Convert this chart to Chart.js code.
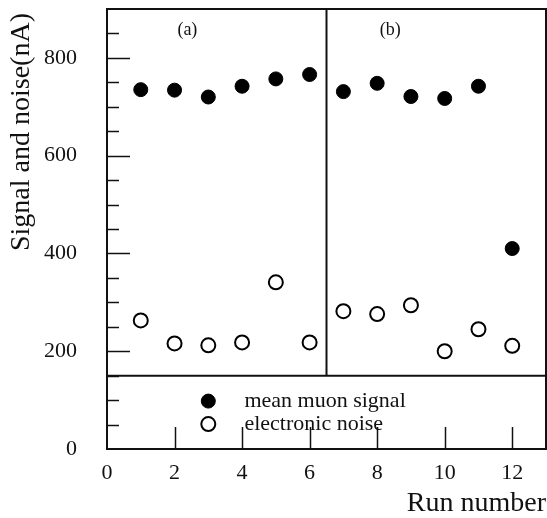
<!DOCTYPE html>
<html><head><meta charset="utf-8">
<script src="https://cdn.jsdelivr.net/npm/chart.js@4"></script>
<style>html,body{margin:0;padding:0;background:#fff;overflow:hidden}#wrap{width:547px;height:518px;position:relative}</style>
</head><body><div id="wrap"><canvas id="c"></canvas></div>
<script>
const runs = [1,2,3,4,5,6,7,8,9,10,11,12];
const muonSignal = [735,734,720,742,757,766,731,748,721,717,742,410];
const electronicNoise = [263,216,212,218,341,218,282,276,294,200,245,211];
const xTicks = [0,2,4,6,8,10,12];
const yTicks = [0,200,400,600,800];
const panelLabels = ['(a)','(b)'];
const seriesNames = ['mean muon signal','electronic noise'];
const xTitle = 'Run number';
const yTitle = 'Signal and noise(nA)';

const FONT = "'Liberation Serif', 'Times New Roman', serif";
const INK = '#111';

const decor = {
  id: 'decor',
  afterDraw(chart) {
    const {ctx, chartArea: a, scales: {x, y}} = chart;
    ctx.save();
    ctx.strokeStyle = INK;
    // inward y ticks
    ctx.lineWidth = 1.5;
    for (let v = 50; v < 900; v += 50) {
      const py = Math.round(y.getPixelForValue(v)) + 0.5;
      const len = (v % 200 === 0) ? 23 : 12;
      ctx.beginPath(); ctx.moveTo(a.left, py); ctx.lineTo(a.left + len, py); ctx.stroke();
    }
    // inward x ticks
    xTicks.forEach(v => {
      if (v === 0) return;
      const px = Math.round(x.getPixelForValue(v)) + 0.5;
      ctx.beginPath(); ctx.moveTo(px, a.bottom); ctx.lineTo(px, a.bottom - 22); ctx.stroke();
    });
    // divider lines
    ctx.lineWidth = 2;
    const hy = y.getPixelForValue(150);
    ctx.beginPath(); ctx.moveTo(a.left, hy); ctx.lineTo(a.right, hy); ctx.stroke();
    const vx = x.getPixelForValue(6.5);
    ctx.beginPath(); ctx.moveTo(vx, hy); ctx.lineTo(vx, a.top); ctx.stroke();
    // frame
    ctx.lineWidth = 2;
    ctx.strokeRect(a.left, a.top, a.right - a.left, a.bottom - a.top);
    // panel labels
    ctx.fillStyle = INK;
    ctx.font = '18px ' + FONT;
    ctx.textAlign = 'center'; ctx.textBaseline = 'middle';
    ctx.fillText(panelLabels[0], x.getPixelForValue(2.38), y.getPixelForValue(857));
    ctx.fillText(panelLabels[1], x.getPixelForValue(8.39), y.getPixelForValue(857));
    // legend
    const ds = chart.data.datasets;
    const mx = x.getPixelForValue(3.0);
    [98, 51].forEach((lv, i) => {
      const py = y.getPixelForValue(lv);
      ctx.beginPath(); ctx.arc(mx, py, 7, 0, Math.PI * 2);
      ctx.fillStyle = ds[i].backgroundColor; ctx.fill();
      ctx.lineWidth = ds[i].borderWidth; ctx.strokeStyle = ds[i].borderColor; ctx.stroke();
      ctx.fillStyle = INK;
      ctx.font = '22px ' + FONT;
      ctx.textAlign = 'left'; ctx.textBaseline = 'middle';
      ctx.fillText(seriesNames[i], x.getPixelForValue(4.07), py);
    });
    // y title
    ctx.save();
    ctx.translate(22, 132);
    ctx.rotate(-Math.PI / 2);
    ctx.font = '28px ' + FONT;
    ctx.textAlign = 'center'; ctx.textBaseline = 'middle';
    ctx.fillText(yTitle, 0, 0);
    ctx.restore();
    ctx.restore();
  }
};

new Chart(document.getElementById('c'), {
  type: 'scatter',
  data: {
    datasets: [
      { label: seriesNames[0], data: runs.map((r, i) => ({x: r, y: muonSignal[i]})),
        pointStyle: 'circle', pointRadius: 7, backgroundColor: '#000', borderColor: '#000', borderWidth: 1 },
      { label: seriesNames[1], data: runs.map((r, i) => ({x: r, y: electronicNoise[i]})),
        pointStyle: 'circle', pointRadius: 7, backgroundColor: '#fff', borderColor: '#000', borderWidth: 2 }
    ]
  },
  options: {
    responsive: true, maintainAspectRatio: false, animation: false, devicePixelRatio: 1,
    layout: { autoPadding: false, padding: { top: 9, right: 1, left: 0, bottom: 0 } },
    plugins: { legend: { display: false }, tooltip: { enabled: false } },
    elements: { point: { hoverRadius: 7 } },
    scales: {
      x: {
        type: 'linear', min: 0, max: 13,
        afterFit(s) { s.height = 69; s.paddingLeft = 0; s.paddingRight = 0; },
        afterBuildTicks(s) { s.ticks = xTicks.map(v => ({value: v})); },
        grid: { display: false, drawTicks: false },
        border: { display: false },
        ticks: { padding: 11, color: INK, font: { family: FONT, size: 22, lineHeight: 1.2 }, maxRotation: 0, autoSkip: false },
        title: { display: true, text: xTitle, align: 'end', color: INK, padding: 0, font: { family: FONT, size: 28, lineHeight: 1 } }
      },
      y: {
        type: 'linear', min: 0, max: 900,
        afterFit(s) { s.width = 107; s.paddingTop = 0; s.paddingBottom = 0; },
        afterBuildTicks(s) { s.ticks = yTicks.map(v => ({value: v})); },
        grid: { display: false, drawTicks: false },
        border: { display: false },
        ticks: { padding: 30, color: INK, font: { family: FONT, size: 22, lineHeight: 1.2 } }
      }
    }
  },
  plugins: [decor]
});
</script>
</body></html>
